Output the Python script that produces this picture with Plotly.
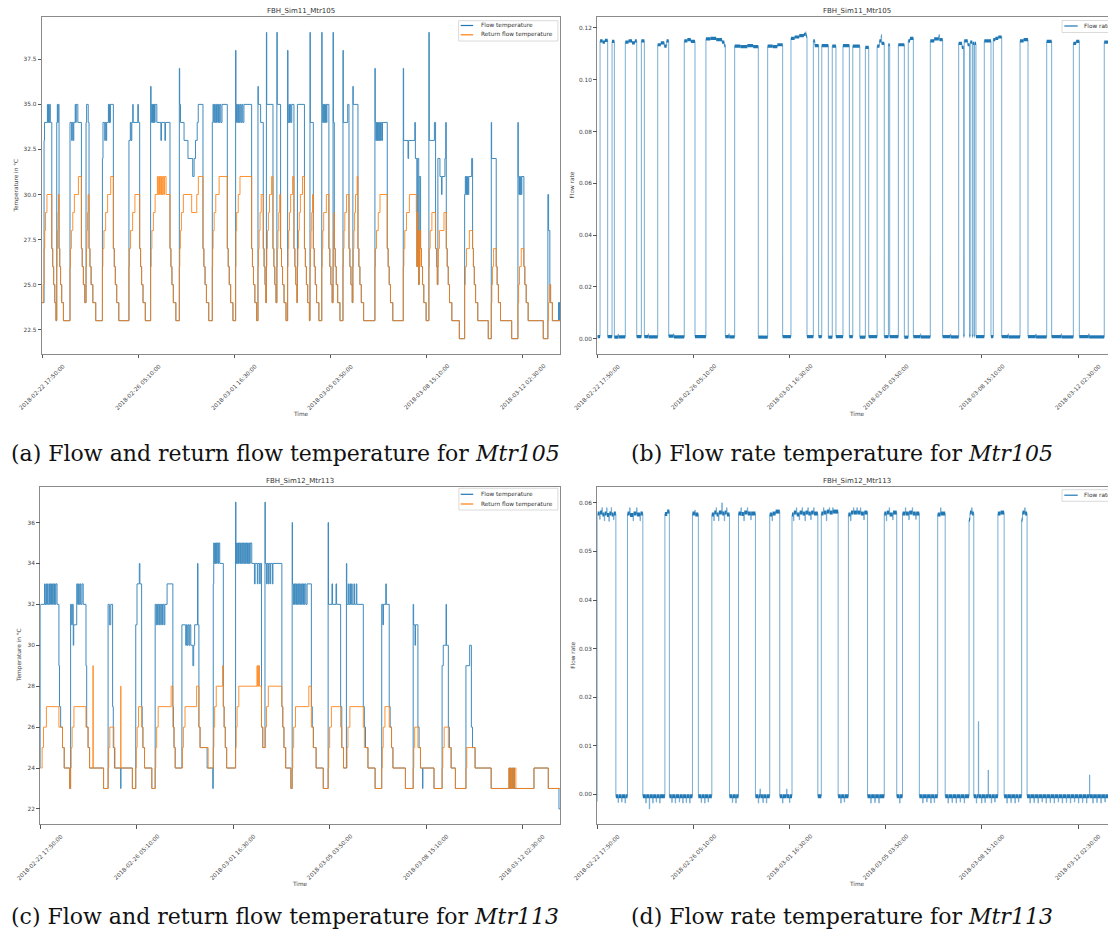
import pandas as pd
import plotly.graph_objects as go

START = "2018-02-22 17:50:00"
TICK_LABELS = ["2018-02-22 17:50:00", "2018-02-26 05:10:00", "2018-03-01 16:30:00",
               "2018-03-05 03:50:00", "2018-03-08 15:10:00", "2018-03-12 02:30:00"]
TITLE_A = "FBH_Sim11_Mtr105"
TITLE_C = "FBH_Sim12_Mtr113"
CAPTIONS = ["(a) Flow and return flow temperature for <i>Mtr105</i>",
            "(b) Flow rate temperature for <i>Mtr105</i>",
            "(c) Flow and return flow temperature for <i>Mtr113</i>",
            "(d) Flow rate temperature for <i>Mtr113</i>"]
TEMP_TICKS_A = [22.5, 25.0, 27.5, 30.0, 32.5, 35.0, 37.5]
TEMP_TICKS_C = [22, 24, 26, 28, 30, 32, 34, 36]
RATE_TICKS_B = [0.0, 0.02, 0.04, 0.06, 0.08, 0.10, 0.12]
RATE_TICKS_D = [0.0, 0.01, 0.02, 0.03, 0.04, 0.05, 0.06]

# (hours since start, value) step series
FLOW_A = [
    (0.0, 24), (1.7, 33), (2.1, 34), (4.6, 35), (5.0, 34), (5.6, 35), (6.0, 34), (6.6, 35), (7.1, 34), (8.4, 27), (9.2, 26), (10.0, 25), (11.0, 24), (12.0, 23),
    (12.7, 34), (13.2, 35), (13.6, 34), (14.0, 35), (14.7, 27), (15.3, 26), (16.0, 25), (17.0, 24), (18.5, 23),
    (24.2, 34), (25.6, 33), (26.2, 34), (27.0, 33), (27.5, 34), (28.7, 35), (29.2, 34), (29.6, 35), (31.0, 34), (34.1, 27), (34.8, 26), (35.8, 25), (37.0, 24),
    (38.1, 34), (38.6, 35), (40.0, 34), (40.7, 27), (41.5, 26), (42.5, 25), (44.0, 24), (46.5, 23),
    (52.3, 32), (52.8, 34), (54.3, 33), (54.8, 34), (55.6, 33), (56.0, 34), (57.5, 35), (58.0, 34), (58.4, 35), (58.8, 34), (59.2, 35), (61.8, 27), (62.6, 26), (63.5, 25), (64.7, 24), (66.5, 23),
    (75.3, 33), (76.5, 34), (77.2, 33), (77.8, 34), (78.6, 35), (79.0, 34), (83.0, 35), (83.5, 34), (84.6, 27), (85.4, 26), (86.3, 25), (87.5, 24), (89.5, 23),
    (94.1, 36), (94.5, 35), (95.0, 34), (95.4, 35), (95.8, 34), (96.2, 35), (96.6, 34), (97.0, 35), (97.5, 34), (98.0, 35), (99.5, 34), (103.0, 33), (103.5, 34), (106.5, 33), (107.0, 34), (110.9, 27), (111.7, 26), (112.6, 25), (113.8, 24), (116.0, 23),
    (119.0, 37), (119.3, 35), (120.0, 34), (123.1, 33), (126.5, 32), (130.6, 31), (131.8, 32), (133.0, 33), (134.5, 34), (135.4, 35), (139.5, 27), (140.3, 26), (141.3, 25), (142.5, 24), (144.5, 23),
    (147.6, 34), (148.2, 35), (148.8, 34), (149.4, 35), (150.0, 34), (150.6, 35), (151.2, 34), (151.8, 35), (152.4, 34), (153.0, 35), (153.6, 34), (154.2, 35), (155.0, 34), (156.0, 35), (160.6, 27), (161.4, 26), (162.3, 25), (163.5, 24), (165.5, 23),
    (167.8, 38), (168.1, 35), (168.6, 34), (169.2, 35), (169.8, 34), (170.4, 35), (171.0, 34), (171.8, 35), (172.5, 34), (173.2, 35), (174.0, 34), (175.0, 35), (181.7, 27), (182.4, 26), (183.3, 25), (184.5, 24), (186.0, 23),
    (187.2, 36), (187.5, 35), (189.5, 34), (191.8, 27), (192.5, 26), (193.3, 25), (194.0, 24),
    (194.5, 39), (194.8, 35), (200.2, 27), (201.0, 26), (201.8, 25), (202.8, 24),
    (203.6, 39), (203.9, 35), (206.8, 27), (207.6, 26), (208.5, 25), (209.8, 24), (211.5, 23),
    (212.9, 38), (213.2, 34), (214.0, 35), (214.5, 34), (215.2, 35), (215.8, 34), (216.5, 35), (218.4, 27), (219.2, 26), (220.0, 25), (221.0, 24),
    (221.4, 35), (227.5, 27), (228.3, 26), (229.2, 25), (230.3, 24), (231.8, 23),
    (232.3, 39), (232.6, 34), (235.2, 27), (236.0, 26), (236.9, 25), (238.0, 24), (240.0, 23),
    (242.5, 39), (242.8, 35), (243.3, 34), (243.8, 35), (244.3, 34), (244.8, 35), (245.3, 34), (245.8, 35), (246.5, 34), (247.0, 35), (248.7, 27), (249.5, 26), (250.4, 25), (251.5, 24),
    (252.3, 39), (252.6, 34), (253.4, 27), (254.2, 26), (255.1, 25), (256.3, 24), (258.3, 23),
    (260.9, 38), (261.2, 34), (265.0, 35), (266.1, 27), (266.9, 26), (267.8, 25), (268.9, 24),
    (269.5, 36), (269.8, 35), (273.9, 27), (274.7, 26), (275.6, 25), (276.8, 24), (278.8, 23),
    (288.6, 37), (288.9, 34), (289.4, 33), (289.9, 34), (290.4, 33), (290.9, 34), (291.4, 33), (291.9, 34), (292.4, 33), (292.9, 34), (293.4, 33), (294.0, 34), (294.6, 33), (295.2, 34), (299.3, 27), (300.1, 26), (301.0, 25), (302.1, 24), (304.1, 23),
    (313.2, 37), (313.5, 33), (317.3, 32), (317.8, 33), (323.2, 34), (323.7, 32), (325.0, 26), (325.4, 32), (326.6, 25), (327.0, 31), (328.2, 27), (329.0, 26), (329.9, 25), (331.0, 24), (333.0, 23),
    (335.4, 39), (335.7, 33), (340.2, 34), (341.2, 27), (342.0, 26), (342.7, 25),
    (343.2, 32), (345.0, 31), (346.4, 30), (346.8, 31), (349.3, 32), (350.0, 34), (350.5, 27), (351.3, 26), (352.2, 25), (353.3, 24), (355.3, 23), (361.8, 22),
    (366.4, 30), (367.0, 31), (367.5, 30), (368.0, 31), (368.5, 30), (369.0, 31), (369.5, 30), (370.0, 31), (372.5, 32), (373.3, 27), (374.0, 26), (374.8, 25), (375.9, 24), (377.8, 23), (386.9, 22),
    (389.5, 34), (389.8, 32), (393.8, 26), (394.6, 25), (395.7, 24), (397.5, 23), (407.2, 22),
    (412.6, 34), (412.9, 31), (413.5, 30), (414.0, 31), (414.5, 30), (415.0, 31), (415.5, 30), (416.0, 31), (417.8, 26), (418.6, 25), (419.8, 24), (421.5, 23), (434.6, 22),
    (438.6, 30), (439.2, 28), (440.3, 25), (441.0, 24), (442.5, 23), (447.8, 24), (448.2, 23), (448.6, 24), (449.1, 23),
]

RETURN_A = [
    (0.0, 24), (1.0, 25), (1.7, 27), (2.3, 28), (3.0, 29), (4.2, 30), (8.4, 27), (9.2, 26), (10.0, 25), (11.0, 24), (12.0, 23),
    (12.7, 26), (13.0, 27), (13.4, 28), (13.8, 29), (14.2, 30), (14.7, 27), (15.3, 26), (16.0, 25), (17.0, 24), (18.5, 23),
    (24.2, 26), (24.6, 27), (25.4, 28), (26.6, 29), (28.0, 30), (31.5, 31), (34.1, 27), (34.8, 26), (35.8, 25), (37.0, 24),
    (38.1, 26), (38.5, 27), (38.9, 28), (39.4, 29), (39.9, 30), (40.7, 27), (41.5, 26), (42.5, 25), (44.0, 24), (46.5, 23),
    (52.3, 26), (52.7, 27), (53.6, 28), (55.1, 29), (56.8, 30), (59.5, 31), (61.8, 27), (62.6, 26), (63.5, 25), (64.7, 24), (66.5, 23),
    (75.3, 26), (75.8, 27), (76.7, 28), (78.5, 29), (80.5, 30), (84.6, 27), (85.4, 26), (86.3, 25), (87.5, 24), (89.5, 23),
    (94.1, 26), (94.6, 27), (95.2, 28), (96.5, 29), (98.0, 30), (100.0, 31), (100.6, 30), (101.2, 31), (101.8, 30), (102.4, 31), (103.0, 30), (103.6, 31), (104.2, 30), (104.8, 31), (105.5, 30), (106.2, 31), (107.5, 30), (110.9, 27), (111.7, 26), (112.6, 25), (113.8, 24), (116.0, 23),
    (119.0, 26), (119.4, 27), (119.9, 28), (120.8, 29), (122.5, 30), (129.7, 29), (134.1, 30), (135.5, 31), (139.5, 27), (140.3, 26), (141.3, 25), (142.5, 24), (144.5, 23),
    (147.6, 26), (147.9, 27), (148.3, 28), (149.2, 29), (150.6, 30), (153.5, 31), (160.6, 27), (161.4, 26), (162.3, 25), (163.5, 24), (165.5, 23),
    (167.8, 26), (168.1, 28), (168.7, 29), (170.1, 30), (171.6, 31), (181.7, 27), (182.4, 26), (183.3, 25), (184.5, 24), (186.0, 23),
    (187.2, 26), (187.6, 27), (188.2, 28), (189.0, 29), (190.0, 30), (191.8, 27), (192.5, 26), (193.3, 25), (194.0, 24),
    (194.5, 26), (194.9, 27), (195.4, 28), (196.2, 29), (197.2, 30), (199.0, 31), (200.2, 27), (201.0, 26), (201.8, 25), (202.8, 24),
    (203.6, 26), (204.0, 27), (204.5, 28), (205.2, 29), (206.0, 30), (206.8, 27), (207.6, 26), (208.5, 25), (209.8, 24), (211.5, 23),
    (212.9, 26), (213.3, 27), (213.8, 28), (214.5, 29), (215.5, 30), (217.2, 31), (218.4, 27), (219.2, 26), (220.0, 25), (221.0, 24),
    (221.4, 26), (221.8, 27), (222.3, 28), (223.0, 29), (224.0, 30), (225.8, 31), (227.5, 27), (228.3, 26), (229.2, 25), (230.3, 24), (231.8, 23),
    (232.3, 26), (232.7, 27), (233.2, 28), (233.8, 29), (234.5, 30), (235.2, 27), (236.0, 26), (236.9, 25), (238.0, 24), (240.0, 23),
    (242.5, 26), (242.9, 27), (243.4, 28), (244.2, 29), (246.5, 30), (248.7, 27), (249.5, 26), (250.4, 25), (251.5, 24),
    (252.3, 26), (252.6, 27), (252.9, 28), (253.2, 29), (253.4, 27), (254.2, 26), (255.1, 25), (256.3, 24), (258.3, 23),
    (260.9, 26), (261.3, 27), (261.8, 28), (262.5, 29), (264.0, 30), (266.1, 27), (266.9, 26), (267.8, 25), (268.9, 24),
    (269.5, 26), (269.9, 27), (270.4, 28), (271.0, 29), (271.8, 30), (273.2, 31), (273.9, 27), (274.7, 26), (275.6, 25), (276.8, 24), (278.8, 23),
    (288.6, 26), (289.1, 27), (290.0, 28), (291.5, 29), (293.0, 30), (299.3, 27), (300.1, 26), (301.0, 25), (302.1, 24), (304.1, 23),
    (313.2, 26), (313.7, 27), (314.5, 28), (316.0, 29), (318.5, 30), (324.5, 29), (325.0, 26), (325.4, 29), (325.8, 26), (326.2, 28), (326.6, 25), (327.0, 28), (327.4, 26), (327.8, 28), (328.2, 27), (329.0, 26), (329.9, 25), (331.0, 24), (333.0, 23),
    (335.4, 26), (335.8, 27), (336.5, 28), (338.0, 29), (341.2, 27), (342.0, 26), (342.7, 25),
    (343.2, 26), (343.6, 27), (344.5, 28), (348.5, 29), (350.5, 27), (351.3, 26), (352.2, 25), (353.3, 24), (355.3, 23), (361.8, 22),
    (366.4, 25), (367.0, 26), (368.0, 27), (370.5, 28), (373.3, 27), (374.0, 26), (374.8, 25), (375.9, 24), (377.8, 23), (386.9, 22),
    (389.5, 24), (390.0, 25), (390.6, 26), (391.5, 27), (393.8, 26), (394.6, 25), (395.7, 24), (397.5, 23), (407.2, 22),
    (412.6, 24), (413.2, 25), (414.0, 26), (415.5, 27), (417.8, 26), (418.6, 25), (419.8, 24), (421.5, 23), (434.6, 22),
    (438.6, 23), (439.2, 24), (440.0, 25), (440.8, 24), (442.5, 23), (449.1, 23),
]

RATE_B = [
    (0.0, 0.0008), (2.3, 0.1150), (4.5, 0.1145), (6.5, 0.1152), (8.9, 0.0008),
    (12.7, 0.1148), (14.7, 0.0006), (18.0, 0.0018), (18.3, 0.0007),
    (24.2, 0.1145), (27.0, 0.1150), (30.0, 0.1142), (32.5, 0.1150), (34.1, 0.0008),
    (38.1, 0.1150), (40.7, 0.0008), (44.0, 0.0019), (44.3, 0.0007),
    (52.3, 0.1135), (55.0, 0.1142), (58.0, 0.1130), (60.0, 0.1150), (61.8, 0.0010), (66.0, 0.0019), (66.3, 0.0007),
    (75.3, 0.1150), (78.0, 0.1155), (81.0, 0.1148), (84.6, 0.0008),
    (94.1, 0.1158), (98.0, 0.1160), (103.0, 0.1155), (108.0, 0.1145), (110.0, 0.1132), (110.9, 0.0008), (114.0, 0.0019), (114.3, 0.0007),
    (119.0, 0.1130), (124.0, 0.1128), (130.0, 0.1132), (135.0, 0.1128), (139.5, 0.0006),
    (147.6, 0.1130), (152.0, 0.1128), (156.0, 0.1135), (160.6, 0.0008),
    (167.8, 0.1160), (171.0, 0.1165), (175.0, 0.1170), (179.0, 0.1175), (180.5, 0.1180), (181.0, 0.1168), (181.7, 0.0008),
    (187.2, 0.1150), (188.5, 0.1132), (191.8, 0.0008),
    (194.5, 0.1132), (200.2, 0.0006),
    (203.6, 0.1130), (206.8, 0.0008),
    (212.9, 0.1132), (218.4, 0.0008),
    (221.4, 0.1130), (227.5, 0.0006),
    (232.3, 0.1125), (235.2, 0.0008),
    (242.5, 0.1130), (244.5, 0.1150), (246.0, 0.1170), (246.4, 0.1140), (248.7, 0.0008),
    (252.3, 0.1135), (253.4, 0.0008),
    (260.9, 0.1135), (266.1, 0.0006),
    (269.5, 0.1150), (271.0, 0.1160), (273.9, 0.0008), (280.0, 0.0019), (280.3, 0.0007),
    (288.6, 0.1150), (292.0, 0.1158), (296.0, 0.1170), (296.5, 0.1155), (299.3, 0.0008), (306.0, 0.0018), (306.3, 0.0007),
    (313.2, 0.1140), (316.0, 0.1125), (317.5, 0.0010), (318.0, 0.1150), (321.0, 0.1135), (322.6, 0.0010), (323.2, 0.1145), (325.0, 0.0010), (325.5, 0.1140), (326.6, 0.0010), (327.0, 0.1140), (328.2, 0.0008),
    (335.4, 0.1150), (341.2, 0.0008),
    (343.2, 0.1155), (345.0, 0.1160), (347.5, 0.1165), (350.5, 0.0008), (356.0, 0.0019), (356.3, 0.0007),
    (366.4, 0.1150), (369.5, 0.1155), (373.3, 0.0008), (380.0, 0.0018), (380.3, 0.0007),
    (389.5, 0.1148), (393.8, 0.0008), (402.0, 0.0019), (402.3, 0.0007),
    (412.6, 0.1140), (415.0, 0.1148), (417.8, 0.0008), (426.0, 0.0019), (426.3, 0.0007),
    (439.4, 0.1145), (442.7, 0.1148),
]

FLOW_C = [
    (0.0, 24), (0.1, 32), (3.6, 33), (4.0, 32), (4.8, 33), (5.2, 32), (6.0, 33), (6.4, 32), (7.3, 33), (7.9, 32), (8.5, 33), (9.0, 32), (9.6, 33), (10.4, 32), (11.0, 33), (11.6, 32), (12.2, 33), (12.8, 32), (13.4, 33), (14.4, 32), (16.0, 29), (16.5, 27), (17.5, 26), (19.1, 25), (20.6, 24), (25.3, 23),
    (26.1, 32), (27.0, 31), (27.6, 32), (28.4, 30), (28.8, 31), (31.4, 33), (32.2, 32), (33.0, 33), (33.6, 32), (34.4, 33), (35.0, 32), (36.0, 33), (37.0, 32), (39.4, 29), (40.0, 26), (41.2, 25), (42.5, 24), (54.6, 23),
    (58.5, 32), (59.6, 31), (60.8, 32), (62.4, 27), (63.0, 25), (64.0, 24), (69.4, 23), (69.6, 24), (79.5, 23),
    (82.4, 31), (83.5, 33), (85.5, 34), (86.0, 33), (87.5, 27), (88.0, 26), (88.6, 25), (90.0, 24), (96.3, 23),
    (99.2, 32), (100.0, 31), (100.5, 32), (101.3, 31), (101.8, 32), (102.6, 31), (103.1, 32), (104.0, 31), (104.5, 32), (105.5, 31), (106.0, 32), (107.0, 31), (107.6, 32), (109.5, 33), (114.5, 27), (115.0, 26), (115.5, 25), (116.5, 24),
    (122.3, 31), (125.6, 30), (126.2, 31), (126.9, 30), (127.6, 31), (128.4, 30), (129.1, 31), (130.0, 30), (131.8, 29), (132.5, 30), (133.3, 31), (135.8, 34), (136.2, 31), (137.0, 26), (138.0, 25), (144.1, 24), (149.0, 23),
    (149.4, 33), (149.8, 35), (150.3, 34), (150.8, 35), (151.3, 34), (151.8, 35), (152.3, 34), (152.8, 35), (153.5, 34), (154.0, 35), (155.0, 34), (158.1, 27), (158.8, 26), (159.8, 25), (161.0, 24),
    (168.7, 37), (169.0, 34), (169.5, 35), (170.0, 34), (170.6, 35), (171.2, 34), (171.8, 35), (172.4, 34), (173.0, 35), (173.6, 34), (174.2, 35), (174.8, 34), (175.4, 35), (176.0, 34), (176.6, 35), (177.2, 34), (177.8, 35), (178.4, 34), (179.0, 35), (179.6, 34), (180.2, 35), (180.8, 34), (181.4, 35), (182.7, 34), (185.0, 33), (185.6, 34), (187.5, 33), (188.0, 34), (189.5, 33), (190.0, 34), (191.1, 26), (192.2, 25),
    (194.1, 37), (194.4, 34), (195.5, 33), (196.0, 34), (197.0, 33), (197.5, 34), (198.5, 33), (199.0, 34), (200.5, 33), (201.0, 34), (208.7, 27), (209.5, 26), (210.5, 25), (212.0, 24), (216.5, 23),
    (217.6, 36), (217.9, 33), (218.5, 32), (219.0, 33), (219.6, 32), (220.2, 33), (220.8, 32), (221.4, 33), (222.0, 32), (222.6, 33), (223.2, 32), (223.8, 33), (224.4, 32), (225.0, 33), (225.6, 32), (226.2, 33), (226.8, 32), (227.4, 33), (228.0, 32), (228.6, 33), (229.5, 32), (230.5, 33), (234.2, 27), (235.0, 26), (236.0, 25), (238.3, 24), (244.5, 23),
    (248.7, 36), (249.0, 32), (252.0, 33), (252.5, 32), (255.5, 33), (256.0, 32), (259.5, 27), (260.5, 25), (262.0, 24),
    (264.5, 34), (264.8, 32), (266.0, 33), (266.5, 32), (267.5, 33), (268.0, 32), (269.0, 33), (269.5, 32), (271.0, 33), (271.5, 32), (273.0, 33), (273.5, 32), (279.1, 27), (280.0, 26), (281.0, 25), (283.1, 24), (289.3, 23),
    (295.0, 32), (296.0, 31), (296.5, 32), (298.5, 33), (299.0, 32), (301.5, 27), (302.3, 26), (303.5, 25), (304.7, 24), (315.5, 23),
    (322.2, 32), (322.6, 31), (323.8, 30), (324.2, 31), (326.3, 26), (327.3, 25), (328.5, 24), (330.3, 23), (330.6, 24), (340.2, 23),
    (347.2, 29), (348.2, 30), (350.6, 32), (351.0, 30), (352.6, 26), (353.5, 25), (355.0, 24), (358.7, 23),
    (367.8, 29), (371.0, 30), (372.5, 26), (373.5, 25), (375.7, 24), (389.6, 23), (405.0, 24), (405.6, 23), (406.2, 24), (406.8, 23), (407.5, 24), (408.2, 23), (409.0, 24), (409.8, 23), (426.6, 24), (439.0, 23), (448.2, 22), (449.2, 22),
]

RETURN_C = [
    (0.0, 24), (1.5, 25), (2.7, 26), (5.2, 27), (16.0, 26), (19.1, 25), (20.6, 24), (25.3, 23),
    (26.1, 24), (26.6, 25), (27.4, 26), (29.0, 27), (39.4, 26), (41.2, 25), (42.5, 24), (45.4, 29), (45.7, 24), (54.6, 23),
    (58.5, 24), (59.0, 25), (60.0, 26), (63.5, 25), (64.5, 24), (69.4, 28), (69.6, 24), (79.5, 23),
    (82.4, 24), (82.9, 25), (83.6, 26), (84.8, 27), (87.5, 26), (88.6, 25), (90.0, 24), (96.3, 23),
    (99.2, 24), (99.7, 25), (100.5, 26), (101.8, 27), (113.0, 28), (114.5, 26), (115.5, 25), (116.5, 24),
    (122.3, 24), (122.8, 25), (123.6, 26), (125.0, 27), (135.0, 28), (137.0, 26), (138.0, 25), (145.0, 24),
    (149.4, 25), (149.9, 26), (150.6, 27), (152.0, 28), (157.5, 29), (157.8, 28), (158.1, 27), (158.8, 26), (159.8, 25), (161.0, 24),
    (168.7, 25), (169.2, 26), (170.0, 27), (171.5, 28), (187.2, 29), (187.6, 28), (188.0, 29), (188.4, 28), (188.8, 29), (189.4, 28), (191.1, 26), (192.2, 25),
    (194.1, 25), (194.6, 26), (195.4, 27), (197.0, 28), (208.7, 27), (209.5, 26), (210.5, 25), (212.0, 24), (216.5, 23),
    (217.6, 24), (218.1, 25), (218.9, 26), (220.5, 27), (232.0, 28), (234.2, 26), (235.8, 25), (238.3, 24), (244.5, 23),
    (248.7, 24), (249.2, 25), (250.0, 26), (251.5, 27), (259.5, 26), (260.5, 25), (262.0, 24),
    (264.5, 24), (265.0, 25), (265.8, 26), (267.5, 27), (279.1, 26), (280.0, 25), (283.1, 24), (289.3, 23),
    (295.0, 24), (295.5, 25), (296.3, 26), (297.8, 27), (301.5, 26), (303.5, 25), (304.7, 24), (315.5, 23),
    (322.2, 24), (322.7, 25), (323.5, 26), (326.3, 25), (328.5, 24), (340.2, 23),
    (347.2, 24), (347.8, 25), (349.0, 26), (352.6, 25), (355.0, 24), (358.7, 23),
    (367.8, 24), (368.5, 25), (375.7, 24), (389.6, 23), (405.0, 24), (405.5, 23), (406.0, 24), (406.6, 23), (407.2, 24), (407.8, 23), (408.6, 24), (409.3, 23), (410.0, 24), (411.0, 23), (426.6, 24), (439.0, 23), (449.2, 23),
]

RATE_D = [
    (0.0, -0.0015), (0.1, 0.0578), (2.0, 0.0566), (2.3, 0.0580), (4.0, 0.0590), (4.3, 0.0576), (6.0, 0.0563), (6.3, 0.0578), (8.0, 0.0590), (8.3, 0.0575), (10.0, 0.0562), (10.3, 0.0578), (12.0, 0.0590), (12.3, 0.0576), (14.0, 0.0565), (14.3, 0.0578), (16.0, -0.0004),
    (18.0, -0.0017), (18.3, -0.0004), (21.0, -0.0016), (21.3, -0.0004), (24.0, -0.0018), (24.3, -0.0004),
    (26.1, 0.0578), (28.0, 0.0590), (28.3, 0.0575), (31.0, 0.0563), (31.3, 0.0578), (34.0, 0.0590), (34.3, 0.0576), (37.0, 0.0563), (37.3, 0.0578), (39.4, -0.0004),
    (42.0, -0.0018), (42.3, -0.0004), (45.0, -0.0030), (45.3, -0.0004), (48.0, -0.0018), (48.3, -0.0004), (51.0, -0.0016), (51.3, -0.0004), (54.0, -0.0018), (54.3, -0.0004),
    (58.5, 0.0577), (60.5, 0.0582), (62.4, -0.0004),
    (64.5, -0.0017), (64.8, -0.0004), (67.5, -0.0018), (67.8, -0.0004), (71.0, -0.0016), (71.3, -0.0004), (74.0, -0.0018), (74.3, -0.0004), (77.0, -0.0017), (77.3, -0.0004), (80.0, -0.0018), (80.3, -0.0004),
    (82.4, 0.0578), (84.5, 0.0585), (84.8, 0.0576), (87.5, -0.0004),
    (90.0, -0.0017), (90.3, -0.0004), (93.0, -0.0018), (93.3, -0.0004), (96.0, -0.0016), (96.3, -0.0004),
    (99.2, 0.0576), (101.0, 0.0563), (101.3, 0.0580), (103.0, 0.0590), (103.3, 0.0576), (105.0, 0.0563), (105.3, 0.0580), (107.9, 0.0600), (108.2, 0.0578), (110.0, 0.0563), (110.3, 0.0580), (112.0, 0.0590), (112.3, 0.0576), (114.5, -0.0004),
    (117.0, -0.0017), (117.3, -0.0004), (120.0, -0.0018), (120.3, -0.0004),
    (122.3, 0.0578), (124.5, 0.0590), (124.8, 0.0577), (127.0, 0.0563), (127.3, 0.0580), (130.0, 0.0590), (130.3, 0.0578), (133.0, 0.0565), (133.3, 0.0578), (137.0, -0.0004),
    (139.5, -0.0018), (139.8, -0.0004), (141.0, 0.0011), (141.3, -0.0004), (143.5, -0.0017), (143.8, -0.0004), (146.5, -0.0018), (146.8, -0.0004),
    (149.4, 0.0576), (151.5, 0.0563), (151.8, 0.0578), (154.5, 0.0582), (158.1, -0.0004),
    (160.5, -0.0018), (160.8, -0.0004), (164.0, 0.0011), (164.3, -0.0004), (166.5, -0.0017), (166.8, -0.0004),
    (168.7, 0.0576), (170.0, 0.0563), (170.3, 0.0580), (172.5, 0.0590), (172.8, 0.0576), (175.0, 0.0565), (175.3, 0.0580), (177.5, 0.0590), (177.8, 0.0578), (180.0, 0.0563), (180.3, 0.0580), (182.5, 0.0590), (182.8, 0.0578), (185.0, 0.0565), (185.3, 0.0580), (187.5, 0.0590), (187.8, 0.0578), (191.1, -0.0004),
    (194.1, 0.0578), (196.0, 0.0590), (196.3, 0.0580), (198.5, 0.0563), (198.8, 0.0582), (201.0, 0.0590), (201.3, 0.0580), (204.0, 0.0590), (204.3, 0.0582), (208.7, -0.0004),
    (211.0, -0.0018), (211.3, -0.0004), (214.0, -0.0016), (214.3, -0.0004),
    (217.6, 0.0576), (219.5, 0.0563), (219.8, 0.0580), (222.0, 0.0590), (222.3, 0.0580), (225.0, 0.0590), (225.3, 0.0580), (228.0, 0.0590), (228.3, 0.0578), (231.0, 0.0565), (231.3, 0.0580), (234.2, -0.0004),
    (237.0, -0.0018), (237.3, -0.0004), (240.5, -0.0017), (240.8, -0.0004), (244.0, -0.0018), (244.3, -0.0004),
    (248.7, 0.0578), (250.5, 0.0563), (250.8, 0.0580), (253.0, 0.0590), (253.3, 0.0576), (256.0, 0.0565), (256.3, 0.0580), (259.5, -0.0004),
    (262.0, -0.0018), (262.3, -0.0004),
    (264.5, 0.0578), (267.0, 0.0590), (267.3, 0.0578), (270.0, 0.0565), (270.3, 0.0580), (273.0, 0.0590), (273.3, 0.0578), (276.0, 0.0566), (276.3, 0.0578), (279.1, -0.0004),
    (282.0, -0.0018), (282.3, -0.0004), (285.5, -0.0016), (285.8, -0.0004), (289.0, -0.0018), (289.3, -0.0004), (292.0, -0.0017), (292.3, -0.0004),
    (295.0, 0.0576), (297.5, 0.0590), (297.8, 0.0578), (301.5, -0.0004),
    (304.0, -0.0018), (304.3, -0.0004), (307.5, -0.0017), (307.8, -0.0004), (311.0, -0.0018), (311.3, -0.0004), (314.5, -0.0016), (314.8, -0.0004), (318.0, -0.0018), (318.3, -0.0004),
    (322.2, 0.0565), (323.0, 0.0580), (324.5, 0.0590), (324.8, 0.0578), (326.3, -0.0004),
    (328.5, -0.0018), (328.8, -0.0004), (330.3, 0.0150), (330.5, -0.0004), (333.0, -0.0018), (333.3, -0.0004), (336.0, -0.0017), (336.3, -0.0004), (338.8, 0.0050), (339.0, -0.0004), (341.5, -0.0018), (341.8, -0.0004), (344.5, -0.0016), (344.8, -0.0004),
    (347.2, 0.0578), (349.5, 0.0580), (352.6, -0.0004),
    (355.0, -0.0018), (355.3, -0.0004), (358.5, -0.0017), (358.8, -0.0004), (362.0, -0.0018), (362.3, -0.0004), (365.0, -0.0016), (365.3, -0.0004),
    (367.8, 0.0565), (368.5, 0.0580), (370.5, 0.0590), (370.8, 0.0578), (372.5, -0.0004),
    (375.0, -0.0018), (375.3, -0.0004), (378.5, -0.0017), (378.8, -0.0004), (382.0, -0.0018), (382.3, -0.0004), (385.5, -0.0016), (385.8, -0.0004), (389.0, -0.0018), (389.3, -0.0004), (392.5, -0.0017), (392.8, -0.0004), (396.0, -0.0018), (396.3, -0.0004), (399.5, -0.0016), (399.8, -0.0004), (403.0, -0.0018), (403.3, -0.0004), (406.5, -0.0017), (406.8, -0.0004), (410.0, -0.0018), (410.3, -0.0004), (413.5, -0.0016), (413.8, -0.0004), (417.0, -0.0018), (417.3, -0.0004), (420.5, -0.0017), (420.8, -0.0004), (424.0, -0.0018), (424.3, -0.0004), (426.6, 0.0040), (426.8, -0.0004), (429.5, -0.0018), (429.8, -0.0004), (433.0, -0.0017), (433.3, -0.0004), (436.5, -0.0018), (436.8, -0.0004), (440.0, -0.0016), (440.3, -0.0004), (442.7, -0.0004),
]

# ---------------------------------------------------------------------------
W, H = 1108, 938
BLUE, ORANGE = "#1f77b4", "#ff7f0e"
FONT = "DejaVu Sans"
t0 = pd.Timestamp(START)


def X(p):
    return p / W


def Y(p):
    return 1 - p / H


def times(hours):
    return [t0 + pd.Timedelta(hours=h) for h in hours]


def step_trace(series, color, width, xa, ya, opacity=1.0):
    hrs, vals = zip(*series)
    return go.Scatter(x=times(hrs), y=list(vals), mode="lines",
                      line=dict(shape="hv", color=color, width=width),
                      opacity=opacity, xaxis=xa, yaxis=ya,
                      showlegend=False, hoverinfo="skip")


def band_trace(series, color, width, xa, ya):
    xs, ys = [], []
    for (h1, v1), (h2, _) in zip(series[:-1], series[1:]):
        if h2 - h1 < 0.35:
            continue
        xs += [t0 + pd.Timedelta(hours=h1), t0 + pd.Timedelta(hours=h2), None]
        ys += [v1, v1, None]
    return go.Scatter(x=xs, y=ys, mode="lines", line=dict(color=color, width=width),
                      xaxis=xa, yaxis=ya, showlegend=False, hoverinfo="skip")


fig = go.Figure()
fig.add_trace(step_trace(FLOW_A, BLUE, 1.0, "x", "y", 0.85))
fig.add_trace(step_trace(RETURN_A, ORANGE, 1.0, "x", "y", 0.85))
fig.add_trace(step_trace(RATE_B, BLUE, 1.0, "x2", "y2", 0.6))
fig.add_trace(band_trace(RATE_B, BLUE, 3.2, "x2", "y2"))
fig.add_trace(step_trace(FLOW_C, BLUE, 1.0, "x3", "y3", 0.85))
fig.add_trace(step_trace(RETURN_C, ORANGE, 1.0, "x3", "y3", 0.85))
fig.add_trace(step_trace(RATE_D, BLUE, 1.0, "x4", "y4", 0.6))
fig.add_trace(band_trace(RATE_D, BLUE, 4.0, "x4", "y4"))

tick_times = pd.to_datetime(TICK_LABELS)
SPINE = "#8a8a8a"
TICKFONT = dict(family=FONT, size=5.8, color="#444")

# panel geometry in pixels: left, right, top, bottom, hours visible
PANELS = {
    "a": dict(l=42.1, r=560, t=17, b=354, span=449.1, cx=301),
    "b": dict(l=597.4, r=1108, t=17.3, b=354, span=442.65, cx=857),
    "c": dict(l=40.4, r=560, t=486.7, b=824.3, span=449.1, cx=300),
    "d": dict(l=597.4, r=1108, t=487.3, b=824.3, span=442.65, cx=857),
}
YCFG = {
    "a": dict(range=[21.15, 39.85], tickvals=TEMP_TICKS_A, tickformat=".1f", mirror=True),
    "b": dict(range=[-0.0059, 0.1241], tickvals=RATE_TICKS_B, tickformat=".2f", mirror=False),
    "c": dict(range=[21.25, 37.75], tickvals=TEMP_TICKS_C, tickformat="d", mirror=True),
    "d": dict(range=[-0.00617, 0.0632], tickvals=RATE_TICKS_D, tickformat=".2f", mirror=False),
}
layout_axes = {}
for i, key in enumerate("abcd", start=1):
    p = PANELS[key]
    sfx = "" if i == 1 else str(i)
    layout_axes["xaxis" + sfx] = dict(
        domain=[X(p["l"]), X(p["r"])], type="date", anchor="y" + sfx,
        range=[t0, t0 + pd.Timedelta(hours=p["span"])],
        tickvals=tick_times, showticklabels=False, ticks="outside", ticklen=3.5,
        tickwidth=0.8, tickcolor="#555", showline=True, linecolor=SPINE, linewidth=0.8,
        mirror=True, showgrid=False, zeroline=False, fixedrange=True)
    yc = YCFG[key]
    layout_axes["yaxis" + sfx] = dict(
        domain=[Y(p["b"]), Y(p["t"])], anchor="x" + sfx, range=yc["range"],
        tickvals=yc["tickvals"], tickformat=yc["tickformat"], ticks="outside",
        ticklen=3.5, tickwidth=0.8, tickcolor="#555", tickfont=TICKFONT,
        showline=True, linecolor=SPINE, linewidth=0.8, mirror=yc["mirror"],
        showgrid=False, zeroline=False, fixedrange=True)

ann = []
shapes = []


def text(x, y, s, size=5.8, color="#444", family=FONT, angle=0, xanchor="center"):
    ann.append(dict(x=X(x), y=Y(y), xref="paper", yref="paper", text=s,
                    textangle=angle, xanchor=xanchor, yanchor="middle",
                    showarrow=False, font=dict(family=family, size=size, color=color)))


# rotated x tick labels and axis labels
for i, key in enumerate("abcd", start=1):
    p = PANELS[key]
    sfx = "" if i == 1 else str(i)
    for lab, tt in zip(TICK_LABELS, tick_times):
        ann.append(dict(x=tt.strftime("%Y-%m-%d %H:%M:%S"), xref="x" + sfx,
                        y=Y(p["b"] + 6), yref="paper", text=lab, textangle=-45,
                        xanchor="center", yanchor="top", showarrow=False,
                        font=dict(family=FONT, size=5.8, color="#444")))
    text(p["cx"], p["b"] + 60, "Time")

for txt, xx, yy in [(TITLE_A, 301, 11), (TITLE_A, 857, 11), (TITLE_C, 300, 481), (TITLE_C, 857, 481)]:
    text(xx, yy, txt, size=7, color="#333")

for txt, xx, yy in [("Temperature in °C", 16, 185.5), ("Flow rate", 572, 185.5),
                    ("Temperature in °C", 19.5, 655.5), ("Flow rate", 573, 655.8)]:
    text(xx, yy, txt, angle=-90)

for txt, xx, yy in [(CAPTIONS[0], 285, 453), (CAPTIONS[1], 841.5, 453),
                    (CAPTIONS[2], 285, 916), (CAPTIONS[3], 841.5, 916)]:
    text(xx, yy, txt, size=22, color="#111", family="DejaVu Serif")

# legends
legends = [
    dict(box=(458.6, 557.9, 20.7, 41.0), items=[("Flow temperature", BLUE, 25.5), ("Return flow temperature", ORANGE, 34.8)], hx=(460.7, 473.2), tx=478.6),
    dict(box=(1062.0, 1125.0, 20.5, 32.5), items=[("Flow rate", BLUE, 26.0)], hx=(1064.3, 1077.7), tx=1082.0),
    dict(box=(458.9, 557.9, 488.3, 510.0), items=[("Flow temperature", BLUE, 494.3), ("Return flow temperature", ORANGE, 504.0)], hx=(460.7, 473.2), tx=478.6),
    dict(box=(1062.0, 1125.0, 489.7, 501.3), items=[("Flow rate", BLUE, 495.2)], hx=(1064.3, 1077.7), tx=1082.0),
]
for lg in legends:
    x0, x1, y0, y1 = lg["box"]
    shapes.append(dict(type="rect", xref="paper", yref="paper", x0=X(x0), x1=X(x1),
                       y0=Y(y1), y1=Y(y0), fillcolor="rgba(255,255,255,0.85)",
                       line=dict(color="#d0d0d0", width=0.8), layer="above"))
    for txt, col, yy in lg["items"]:
        shapes.append(dict(type="line", xref="paper", yref="paper", x0=X(lg["hx"][0]),
                           x1=X(lg["hx"][1]), y0=Y(yy), y1=Y(yy),
                           line=dict(color=col, width=1.2), layer="above"))
        text(lg["tx"], yy, txt, color="#333", xanchor="left")

fig.update_layout(
    width=W, height=H, autosize=False,
    margin=dict(l=0, r=0, t=0, b=0, pad=0),
    paper_bgcolor="white", plot_bgcolor="white",
    font=dict(family=FONT, size=6, color="#444"),
    showlegend=False, annotations=ann, shapes=shapes, **layout_axes)

fig.write_html("out.html")
